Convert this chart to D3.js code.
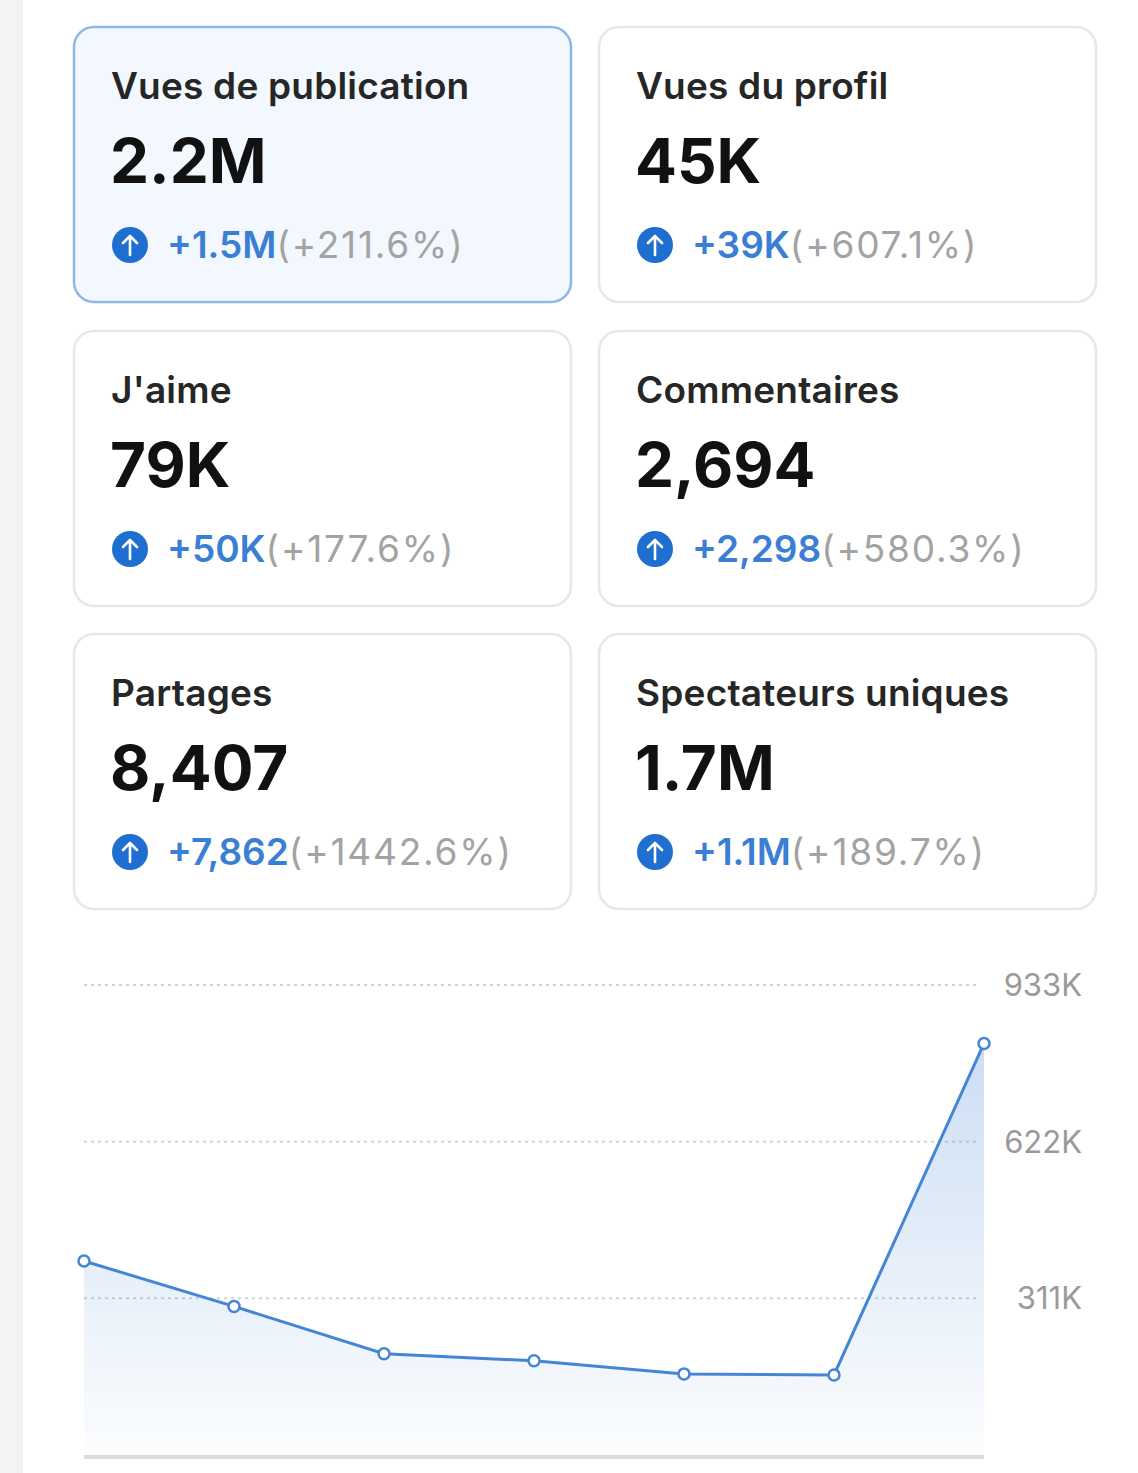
<!DOCTYPE html>
<html>
<head>
<meta charset="utf-8">
<script src="https://cdn.jsdelivr.net/npm/d3@7"></script>
<style>
  body { margin: 0; background: #fff; }
  svg { display: block; font-family: Inter, "Noto Sans", sans-serif; }
</style>
</head>
<body>
<div id="chart"></div>
<script>
// Stat cards
const cardTitles = ["Vues de publication", "Vues du profil", "J'aime", "Commentaires", "Partages", "Spectateurs uniques"];
const cardValues = ["2.2M", "45K", "79K", "2,694", "8,407", "1.7M"];
const cardDeltas = ["+1.5M", "+39K", "+50K", "+2,298", "+7,862", "+1.1M"];
const cardPercents = ["(+211.6%)", "(+607.1%)", "(+177.6%)", "(+580.3%)", "(+1442.6%)", "(+189.7%)"];

// Line chart (publication views per period)
const viewValues = [385000, 295000, 201000, 187000, 161000, 159000, 817000];
const tickValues = [311000, 622000, 933000];
const tickLabels = ["311K", "622K", "933K"];

const W = 1138, H = 1473;

const svg = d3.select("#chart").append("svg")
    .attr("width", W)
    .attr("height", H);

// grey strip on the left edge
svg.append("rect")
    .attr("x", 0).attr("y", 0)
    .attr("width", 23).attr("height", H)
    .attr("fill", "#f3f3f3");

// --- cards ---
const cardW = 499, cardH = 277;
const colX = [73, 598];
const rowY = [26, 330, 633];

const cards = cardTitles.map((t, i) => ({
    title: t,
    value: cardValues[i],
    delta: cardDeltas[i],
    pct: cardPercents[i],
    x: colX[i % 2],
    y: rowY[Math.floor(i / 2)],
    active: i === 0
}));

const card = svg.selectAll(".card")
    .data(cards)
    .enter()
    .append("g")
    .attr("class", "card")
    .attr("transform", d => `translate(${d.x},${d.y})`);

card.append("rect")
    .attr("x", 1).attr("y", 1)
    .attr("width", cardW - 2).attr("height", cardH - 2)
    .attr("rx", 20)
    .attr("fill", d => d.active ? "#f3f8fe" : "#fff")
    .attr("stroke", d => d.active ? "#8fb6e6" : "#e7e7e7")
    .attr("stroke-width", 2.5);

card.append("text")
    .attr("x", 38).attr("y", 73)
    .attr("font-size", 37)
    .attr("font-weight", 600)
    .attr("letter-spacing", 0.2)
    .attr("fill", "#262626")
    .text(d => d.title);

card.append("text")
    .attr("x", 37).attr("y", 157)
    .attr("font-size", 62)
    .attr("font-weight", 700)
    .attr("fill", "#111")
    .text(d => d.value);

// up arrow icon
card.append("circle")
    .attr("cx", 57).attr("cy", 219)
    .attr("r", 18)
    .attr("fill", "#1f6fd1");

card.append("path")
    .attr("d", "M57,229 L57,210 M50,217 L57,210 L64,217")
    .attr("fill", "none")
    .attr("stroke", "#fff")
    .attr("stroke-width", 2.6)
    .attr("stroke-linecap", "round")
    .attr("stroke-linejoin", "round");

const deltaText = card.append("text")
    .attr("x", 94).attr("y", 232)
    .attr("font-size", 37);

deltaText.append("tspan")
    .attr("font-weight", 600)
    .attr("fill", "#3a7fd5")
    .text(d => d.delta);

deltaText.append("tspan")
    .attr("fill", "#a3a3a3")
    .attr("letter-spacing", 1.8)
    .text(d => d.pct);

// --- line chart ---
const xScale = d3.scalePoint()
    .domain(d3.range(viewValues.length))
    .range([84, 984]);

const yScale = d3.scaleLinear()
    .domain([0, 933000])
    .range([1455, 985]);

const defs = svg.append("defs");
const grad = defs.append("linearGradient")
    .attr("id", "areaGrad")
    .attr("x1", 0).attr("y1", 0).attr("x2", 0).attr("y2", 1);
grad.append("stop").attr("offset", "0%").attr("stop-color", "#4a8ad8").attr("stop-opacity", 0.28);
grad.append("stop").attr("offset", "100%").attr("stop-color", "#4a8ad8").attr("stop-opacity", 0.02);

// gridlines
svg.selectAll(".grid")
    .data(tickValues)
    .enter()
    .append("line")
    .attr("x1", 84).attr("x2", 978)
    .attr("y1", d => yScale(d)).attr("y2", d => yScale(d))
    .attr("stroke", "#d2d2d2")
    .attr("stroke-width", 2)
    .attr("stroke-dasharray", "3 4");

// y labels on the right
svg.selectAll(".ylabel")
    .data(tickValues)
    .enter()
    .append("text")
    .attr("x", 1082)
    .attr("y", d => yScale(d) + 11)
    .attr("text-anchor", "end")
    .attr("font-size", 31)
    .attr("fill", "#9a9a9a")
    .text((d, i) => tickLabels[i]);

const area = d3.area()
    .x((d, i) => xScale(i))
    .y0(yScale(0))
    .y1(d => yScale(d));

svg.append("path")
    .datum(viewValues)
    .attr("fill", "url(#areaGrad)")
    .attr("d", area);

// baseline
svg.append("line")
    .attr("x1", 84).attr("x2", 984)
    .attr("y1", 1457).attr("y2", 1457)
    .attr("stroke", "#dcdcdc")
    .attr("stroke-width", 4);

const line = d3.line()
    .x((d, i) => xScale(i))
    .y(d => yScale(d));

svg.append("path")
    .datum(viewValues)
    .attr("fill", "none")
    .attr("stroke", "#4585d6")
    .attr("stroke-width", 3)
    .attr("d", line);

svg.selectAll(".point")
    .data(viewValues)
    .enter()
    .append("circle")
    .attr("cx", (d, i) => xScale(i))
    .attr("cy", d => yScale(d))
    .attr("r", 5.5)
    .attr("fill", "#fff")
    .attr("stroke", "#4585d6")
    .attr("stroke-width", 2.5);
</script>
</body>
</html>
